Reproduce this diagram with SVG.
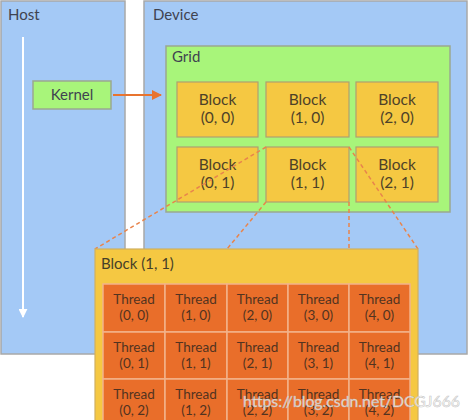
<svg xmlns="http://www.w3.org/2000/svg" width="469" height="420" viewBox="0 0 469 420">
<defs>
<style>
text{font-family:Lato,"Open Sans","Liberation Sans",sans-serif;}
.panel{fill:#a4c9f6;stroke:#a8a8a8;stroke-width:1.5;}
.green{fill:#a8f57a;stroke:#9aa890;stroke-width:1.5;}
.blk{fill:#f5c842;stroke:#b0a070;stroke-width:1.2;}
.big{fill:#f5c842;stroke:#d0b060;stroke-width:1.2;}
.thr{fill:#e96e2a;stroke:#f2b38a;stroke-width:1.5;}
.lbl{font-size:15px;fill:#3f4350;}
.bt{font-size:15.5px;fill:#4e4228;text-anchor:middle;}
.tt{font-size:13.5px;fill:#523320;text-anchor:middle;}
.dash{stroke:#e8844c;stroke-width:1.5;stroke-dasharray:4 3;fill:none;}
</style>
<marker id="ah" viewBox="0 0 10 10" refX="9" refY="5" markerWidth="10" markerHeight="10" markerUnits="userSpaceOnUse" orient="auto"><path d="M0,0 L10,5 L0,10 Z" fill="#e8742f"/></marker>
<marker id="wh" viewBox="0 0 10 10" refX="9" refY="5" markerWidth="9" markerHeight="9" markerUnits="userSpaceOnUse" orient="auto"><path d="M0,0 L10,5 L0,10 Z" fill="#ffffff"/></marker>
</defs>
<rect width="469" height="420" fill="#ffffff"/>
<g id="host">
<rect class="panel" x="1" y="1" width="124" height="353"/>
<text class="lbl" x="8" y="20">Host</text>
<line x1="23" y1="37" x2="23" y2="317" stroke="#ffffff" stroke-width="2" marker-end="url(#wh)"/>
</g>
<g id="device">
<rect class="panel" x="144" y="1" width="323" height="353"/>
<text class="lbl" x="153" y="20">Device</text>
</g>
<g id="kernel">
<rect class="green" x="33" y="81" width="78" height="28"/>
<text class="lbl" x="72" y="100" text-anchor="middle">Kernel</text>
</g>
<g id="grid">
<rect class="green" x="166" y="46" width="284" height="166"/>
<text class="lbl" x="172" y="62">Grid</text>
</g>
<g id="blocks">
<rect class="blk" x="177" y="82" width="81" height="55"/>
<text class="bt" x="217.5" y="105">Block</text><text class="bt" x="217.5" y="123">(0, 0)</text>
<rect class="blk" x="266" y="82" width="83" height="55"/>
<text class="bt" x="307.5" y="105">Block</text><text class="bt" x="307.5" y="123">(1, 0)</text>
<rect class="blk" x="356" y="82" width="82" height="55"/>
<text class="bt" x="397" y="105">Block</text><text class="bt" x="397" y="123">(2, 0)</text>
<rect class="blk" x="177" y="147" width="81" height="55"/>
<text class="bt" x="217.5" y="170">Block</text><text class="bt" x="217.5" y="188">(0, 1)</text>
<rect class="blk" x="266" y="147" width="83" height="55"/>
<text class="bt" x="307.5" y="170">Block</text><text class="bt" x="307.5" y="188">(1, 1)</text>
<rect class="blk" x="356" y="147" width="82" height="55"/>
<text class="bt" x="397" y="170">Block</text><text class="bt" x="397" y="188">(2, 1)</text>
</g>
<g id="connectors">
<line x1="113" y1="95" x2="161" y2="95" stroke="#e8742f" stroke-width="2" marker-end="url(#ah)"/>
<line class="dash" x1="266" y1="147" x2="95" y2="249"/>
<line class="dash" x1="349" y1="147" x2="418" y2="249"/>
<line class="dash" x1="266" y1="202" x2="227" y2="249"/>
<line class="dash" x1="349" y1="202" x2="349" y2="249"/>
</g>
<g id="block11">
<rect class="big" x="95" y="249" width="323" height="180"/>
<text class="lbl" x="101" y="269" style="fill:#463f28">Block (1, 1)</text>
</g>
<g id="threads">
<rect class="thr" x="103" y="284" width="62" height="48"/><text class="tt" x="134" y="304">Thread</text><text class="tt" x="134" y="320">(0, 0)</text>
<rect class="thr" x="165" y="284" width="62" height="48"/><text class="tt" x="196" y="304">Thread</text><text class="tt" x="196" y="320">(1, 0)</text>
<rect class="thr" x="227" y="284" width="61" height="48"/><text class="tt" x="257.5" y="304">Thread</text><text class="tt" x="257.5" y="320">(2, 0)</text>
<rect class="thr" x="288" y="284" width="61" height="48"/><text class="tt" x="318.5" y="304">Thread</text><text class="tt" x="318.5" y="320">(3, 0)</text>
<rect class="thr" x="349" y="284" width="61" height="48"/><text class="tt" x="379.5" y="304">Thread</text><text class="tt" x="379.5" y="320">(4, 0)</text>
<rect class="thr" x="103" y="332" width="62" height="47"/><text class="tt" x="134" y="352">Thread</text><text class="tt" x="134" y="368">(0, 1)</text>
<rect class="thr" x="165" y="332" width="62" height="47"/><text class="tt" x="196" y="352">Thread</text><text class="tt" x="196" y="368">(1, 1)</text>
<rect class="thr" x="227" y="332" width="61" height="47"/><text class="tt" x="257.5" y="352">Thread</text><text class="tt" x="257.5" y="368">(2, 1)</text>
<rect class="thr" x="288" y="332" width="61" height="47"/><text class="tt" x="318.5" y="352">Thread</text><text class="tt" x="318.5" y="368">(3, 1)</text>
<rect class="thr" x="349" y="332" width="61" height="47"/><text class="tt" x="379.5" y="352">Thread</text><text class="tt" x="379.5" y="368">(4, 1)</text>
<rect class="thr" x="103" y="379" width="62" height="48"/><text class="tt" x="134" y="399">Thread</text><text class="tt" x="134" y="415">(0, 2)</text>
<rect class="thr" x="165" y="379" width="62" height="48"/><text class="tt" x="196" y="399">Thread</text><text class="tt" x="196" y="415">(1, 2)</text>
<rect class="thr" x="227" y="379" width="61" height="48"/><text class="tt" x="257.5" y="399">Thread</text><text class="tt" x="257.5" y="415">(2, 2)</text>
<rect class="thr" x="288" y="379" width="61" height="48"/><text class="tt" x="318.5" y="399">Thread</text><text class="tt" x="318.5" y="415">(3, 2)</text>
<rect class="thr" x="349" y="379" width="61" height="48"/><text class="tt" x="379.5" y="399">Thread</text><text class="tt" x="379.5" y="415">(4, 2)</text>
</g>
<text x="243" y="407" font-family="'Liberation Sans',Arial,sans-serif" font-size="15" textLength="217" lengthAdjust="spacingAndGlyphs" fill="#ffffff" fill-opacity="0.8" stroke="#b8b8b8" stroke-width="0.6" stroke-opacity="0.8">https://blog.csdn.net/DCGJ666</text>
</svg>
